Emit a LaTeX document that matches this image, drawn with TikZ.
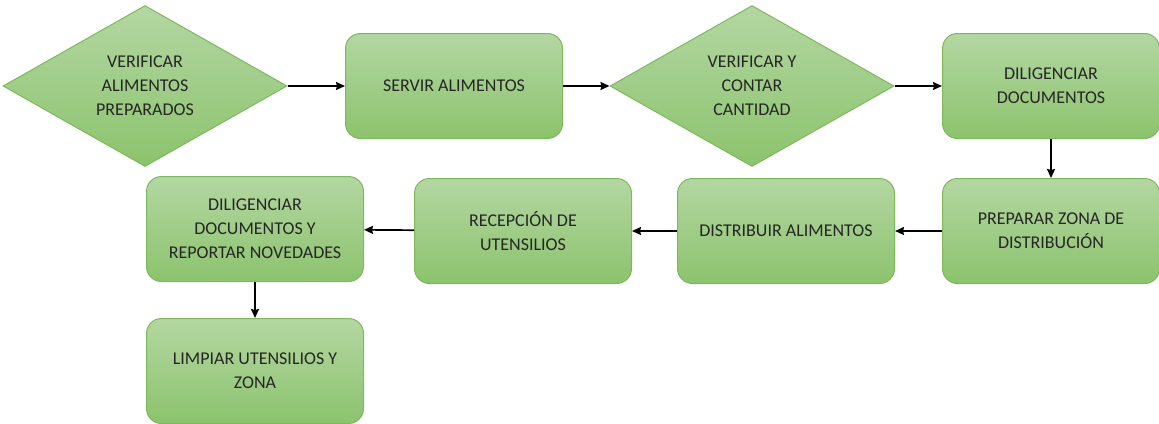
\documentclass[tikz,border=0pt]{standalone}
\usepackage{fontspec}
\setmainfont{Carlito}
\usetikzlibrary{shapes.geometric,arrows.meta}
\definecolor{boxtop}{HTML}{B3D7A2}
\definecolor{boxbot}{HTML}{8CC36D}
\definecolor{boxline}{HTML}{7DB95C}
\tikzstyle{stage} = [rectangle,minimum width=217pt,rounded corners=15pt,
                     minimum height=105pt,align=center,draw=boxline,line width=1pt,
                     top color=boxtop,bottom color=boxbot]
\tikzstyle{check} = [diamond,aspect=1.76,inner sep=0pt,minimum width=284pt,
                     minimum height=161pt,align=center,draw=boxline,line width=1pt,
                     top color=boxtop,bottom color=boxbot]
\tikzstyle{arrow} = [line width=1.7pt,->,>={Stealth[length=9pt,width=8pt,inset=1pt]}]
\begin{document}
\begin{tikzpicture}[every node/.style={font=\fontsize{18}{24}\selectfont,text=black!85},node distance=300pt]
 \useasboundingbox (0pt,0pt) rectangle (1159pt,-423pt);
 \node (VA) [check] at (145pt,-86pt) {VERIFICAR\\ALIMENTOS\\PREPARADOS};
 \node (SA) [stage,right of=VA,xshift=9pt] {SERVIR ALIMENTOS};
 \node (VC) [check,right of=SA,xshift=-2pt] {VERIFICAR Y\\CONTAR\\CANTIDAD};
 \node (DD) [stage,right of=VC,xshift=-1pt] {DILIGENCIAR\\DOCUMENTOS};
 \node (PZ) [stage,below of=DD,node distance=145pt] {PREPARAR ZONA DE\\DISTRIBUCIÓN};
 \node (DA) [stage,left of=PZ,xshift=35pt] {DISTRIBUIR ALIMENTOS};
 \node (RU) [stage,left of=DA,xshift=37pt] {RECEPCIÓN DE\\UTENSILIOS};
 \node (DR) [stage,left of=RU,xshift=32pt,yshift=2pt] 
            {DILIGENCIAR\\DOCUMENTOS Y\\REPORTAR NOVEDADES};
 \node (LU) [stage,below of=DR,node distance=142pt] {LIMPIAR UTENSILIOS Y\\ZONA};
 \draw [arrow] (VA) -- (SA);
 \draw [arrow] (SA) -- (VC);
 \draw [arrow] (VC) -- (DD);
 \draw [arrow] (DD) -- (PZ);
 \draw [arrow] (PZ) -- (DA);
 \draw [arrow] (DA) -- (RU);
 \draw [arrow] (RU) -- (DR);
 \draw [arrow] (DR) -- (LU);
\end{tikzpicture}
\end{document}
